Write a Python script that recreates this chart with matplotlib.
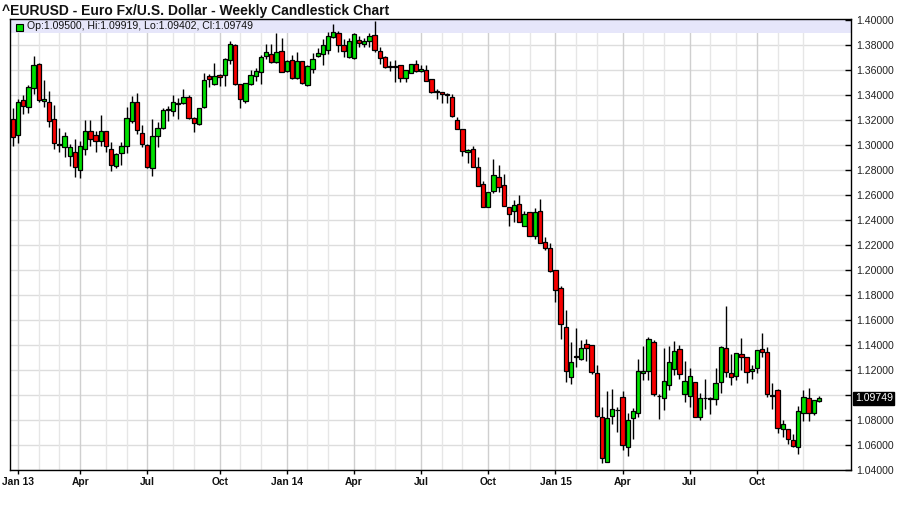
import datetime as dt
import matplotlib
matplotlib.use("Agg")
import matplotlib.pyplot as plt
from matplotlib.patches import Rectangle

# ---------------- data (weekly bars, first week = Dec 31 2012) ----------------
start_week = dt.date(2012, 12, 31)
opens = [
    1.3205, 1.3077, 1.3357, 1.3301, 1.3453, 1.3645, 1.3349, 1.3341, 1.3205, 1.3005,
    1.2981, 1.2909, 1.2941, 1.2800, 1.2965, 1.3112, 1.3077, 1.3029, 1.3112, 1.2965,
    1.2829, 1.2933, 1.2989, 1.3190, 1.3341, 1.3093, 1.2997, 1.2813, 1.3069, 1.3133,
    1.3277, 1.3269, 1.3333, 1.3333, 1.3381, 1.3213, 1.3165, 1.3301, 1.3549, 1.3485,
    1.3557, 1.3557, 1.3677, 1.3797, 1.3485, 1.3349, 1.3485, 1.3549, 1.3581, 1.3709,
    1.3725, 1.3661, 1.3749, 1.3589, 1.3677, 1.3533, 1.3669, 1.3477, 1.3605, 1.3709,
    1.3725, 1.3757, 1.3861, 1.3893, 1.3797, 1.3701, 1.3693, 1.3837, 1.3805, 1.3829,
    1.3877, 1.3749, 1.3701, 1.3629, 1.3632, 1.3640, 1.3533, 1.3579, 1.3645, 1.3592,
    1.3600, 1.3528, 1.3432, 1.3421, 1.3411, 1.3381, 1.3197, 1.3125, 1.2944, 1.2971,
    1.2827, 1.2685, 1.2507, 1.2629, 1.2744, 1.2677, 1.2504, 1.2475, 1.2525, 1.2355,
    1.2467, 1.2275, 1.2469, 1.2224, 1.2173, 1.1997, 1.1853, 1.1544, 1.1147, 1.1312,
    1.1285, 1.1405, 1.1400, 1.1173, 1.0821, 1.0461, 1.0835, 1.0880, 1.0987, 1.0588,
    1.0816, 1.0853, 1.1173, 1.1196, 1.1428, 1.0995, 1.0973, 1.1077, 1.1205, 1.1370,
    1.1005, 1.0992, 1.1101, 1.0827, 1.0979, 1.0973, 1.0965, 1.1107, 1.1373, 1.1173,
    1.1152, 1.1325, 1.1301, 1.1189, 1.1219, 1.1365, 1.1341, 1.0997, 1.1040, 1.0725,
    1.0725, 1.0640, 1.0581, 1.0859, 1.0973, 1.0859, 1.09500,
]
highs = [
    1.3293, 1.3365, 1.3400, 1.3477, 1.3712, 1.3653, 1.3517, 1.3432, 1.3320, 1.3136,
    1.3104, 1.3008, 1.3048, 1.3032, 1.3197, 1.3200, 1.3112, 1.3240, 1.3112, 1.3024,
    1.2933, 1.3024, 1.3304, 1.3392, 1.3416, 1.3160, 1.3005, 1.3205, 1.3181, 1.3293,
    1.3309, 1.3400, 1.3373, 1.3448, 1.3397, 1.3221, 1.3293, 1.3573, 1.3565, 1.3653,
    1.3565, 1.3699, 1.3832, 1.3805, 1.3485, 1.3493, 1.3600, 1.3619, 1.3723, 1.3811,
    1.3805, 1.3893, 1.3853, 1.3677, 1.3717, 1.3741, 1.3669, 1.3637, 1.3733, 1.3773,
    1.3845, 1.3901, 1.3965, 1.3912, 1.3845, 1.3853, 1.3893, 1.3869, 1.3853, 1.3893,
    1.3992, 1.3781, 1.3709, 1.3669, 1.3677, 1.3640, 1.3600, 1.3645, 1.3680, 1.3640,
    1.3640, 1.3528, 1.3448, 1.3427, 1.3419, 1.3405, 1.3221, 1.3125, 1.2971, 1.2992,
    1.2904, 1.2712, 1.2621, 1.2888, 1.2840, 1.2768, 1.2504, 1.2560, 1.2600, 1.2475,
    1.2467, 1.2496, 1.2568, 1.2267, 1.2213, 1.1997, 1.1872, 1.1680, 1.1421, 1.1536,
    1.1440, 1.1448, 1.1400, 1.1240, 1.0901, 1.1035, 1.1048, 1.0907, 1.1032, 1.0853,
    1.0893, 1.1288, 1.1392, 1.1467, 1.1440, 1.1010, 1.1376, 1.1390, 1.1430, 1.1400,
    1.1270, 1.1213, 1.1101, 1.1013, 1.1125, 1.0987, 1.1213, 1.1392, 1.1712, 1.1328,
    1.1333, 1.1453, 1.1301, 1.1240, 1.1357, 1.1493, 1.1381, 1.1093, 1.1051, 1.0800,
    1.0725, 1.0688, 1.0909, 1.1040, 1.1053, 1.0957, 1.09919,
]
lows = [
    1.2992, 1.3013, 1.3248, 1.3259, 1.3408, 1.3347, 1.3307, 1.3141, 1.2965, 1.2947,
    1.2907, 1.2832, 1.2747, 1.2739, 1.2920, 1.2995, 1.2947, 1.2995, 1.2947, 1.2795,
    1.2813, 1.2837, 1.2933, 1.3173, 1.3091, 1.2987, 1.2813, 1.2755, 1.2987, 1.3125,
    1.3189, 1.3229, 1.3205, 1.3325, 1.3205, 1.3101, 1.3157, 1.3293, 1.3461, 1.3477,
    1.3475, 1.3469, 1.3648, 1.3480, 1.3293, 1.3333, 1.3477, 1.3512, 1.3485, 1.3685,
    1.3653, 1.3653, 1.3581, 1.3581, 1.3525, 1.3525, 1.3485, 1.3474, 1.3573, 1.3707,
    1.3637, 1.3725, 1.3853, 1.3747, 1.3701, 1.3693, 1.3685, 1.3787, 1.3787, 1.3787,
    1.3747, 1.3645, 1.3613, 1.3590, 1.3501, 1.3507, 1.3507, 1.3573, 1.3587, 1.3587,
    1.3515, 1.3413, 1.3365, 1.3333, 1.3333, 1.3221, 1.3125, 1.2915, 1.2853, 1.2821,
    1.2675, 1.2501, 1.2507, 1.2613, 1.2627, 1.2515, 1.2355, 1.2387, 1.2387, 1.2355,
    1.2275, 1.2248, 1.2219, 1.2160, 1.1987, 1.1747, 1.1448, 1.1107, 1.1088, 1.1227,
    1.1280, 1.1275, 1.1171, 1.0821, 1.0459, 1.0461, 1.0765, 1.0707, 1.0562, 1.0515,
    1.0652, 1.0825, 1.1120, 1.1120, 1.0992, 1.0808, 1.0883, 1.1042, 1.1160, 1.1125,
    1.0947, 1.0907, 1.0821, 1.0800, 1.0890, 1.0848, 1.0920, 1.1013, 1.1147, 1.1080,
    1.1120, 1.1200, 1.1099, 1.1125, 1.1179, 1.1307, 1.0987, 1.0890, 1.0699, 1.0667,
    1.0608, 1.0587, 1.0525, 1.0795, 1.0795, 1.0840, 1.09402,
]
closes = [
    1.3061, 1.3341, 1.3312, 1.3461, 1.3637, 1.3357, 1.3365, 1.3192, 1.3013, 1.3000,
    1.3069, 1.2981, 1.2821, 1.2989, 1.3112, 1.3045, 1.3029, 1.3112, 1.2989, 1.2837,
    1.2925, 1.2989, 1.3213, 1.3341, 1.3120, 1.3005, 1.2821, 1.3069, 1.3133, 1.3277,
    1.3285, 1.3341, 1.3325, 1.3381, 1.3213, 1.3173, 1.3293, 1.3517, 1.3525, 1.3549,
    1.3541, 1.3685, 1.3805, 1.3485, 1.3365, 1.3493, 1.3557, 1.3589, 1.3701, 1.3741,
    1.3661, 1.3741, 1.3581, 1.3669, 1.3533, 1.3669, 1.3493, 1.3629, 1.3685, 1.3733,
    1.3797, 1.3869, 1.3901, 1.3797, 1.3749, 1.3829, 1.3885, 1.3813, 1.3829, 1.3869,
    1.3757, 1.3693, 1.3621, 1.3621, 1.3628, 1.3533, 1.3600, 1.3645, 1.3592, 1.3605,
    1.3515, 1.3427, 1.3421, 1.3405, 1.3397, 1.3235, 1.3125, 1.2949, 1.2960, 1.2827,
    1.2675, 1.2507, 1.2621, 1.2757, 1.2667, 1.2515, 1.2451, 1.2520, 1.2387, 1.2445,
    1.2275, 1.2461, 1.2219, 1.2179, 1.1995, 1.1837, 1.1565, 1.1195, 1.1267, 1.1307,
    1.1373, 1.1373, 1.1187, 1.0835, 1.0493, 1.0813, 1.0885, 1.0883, 1.0598, 1.0800,
    1.0870, 1.1188, 1.1190, 1.1444, 1.1005, 1.0993, 1.1110, 1.1261, 1.1350, 1.1165,
    1.1112, 1.1150, 1.0821, 1.0973, 1.0976, 1.0965, 1.1099, 1.1381, 1.1181, 1.1147,
    1.1333, 1.1301, 1.1187, 1.1205, 1.1357, 1.1341, 1.1011, 1.0992, 1.0733, 1.0765,
    1.0645, 1.0589, 1.0875, 1.0981, 1.0859, 1.0957, 1.09749,
]
price_ticks = [1.04, 1.06, 1.08, 1.10, 1.12, 1.14, 1.16, 1.18, 1.20, 1.22,
               1.24, 1.26, 1.28, 1.30, 1.32, 1.34, 1.36, 1.38, 1.40]
title_text = "^EURUSD - Euro Fx/U.S. Dollar - Weekly Candlestick Chart"

# ---------------- figure ----------------
W, H = 900, 511
fig = plt.figure(figsize=(W / 100, H / 100), dpi=100, facecolor="white")
ax_l, ax_r, ax_t, ax_b = 10, 851, 19, 470
ax = fig.add_axes([ax_l / W, (H - ax_b) / H, (ax_r - ax_l) / W, (ax_b - ax_t) / H])
ax.set_facecolor("white")

n = len(opens)
idx = list(range(n))
ax.set_xlim(-0.58, 162.2)
ax.set_ylim(1.04, 1.4008)

# grid: horizontal
for p in price_ticks:
    ax.axhline(p, color="#dddddd", lw=1, zorder=0)

# grid: monthly verticals at first weekly bar of each month
month_pos, month_lab = [], []
for y in (2013, 2014, 2015):
    for m in range(1, 13):
        d = dt.date(y, m, 1)
        while d.weekday() != 0:
            d += dt.timedelta(days=1)
        k = (d - start_week).days / 7
        if k > n:
            continue
        q = m in (1, 4, 7, 10)
        ax.axvline(k, color="#cfcfcf" if q else "#e6e6e6", lw=1, zorder=0)
        if q:
            month_pos.append(k)
            name = {1: "Jan", 4: "Apr", 7: "Jul", 10: "Oct"}[m]
            month_lab.append(f"{name} {y % 100:02d}" if m == 1 else name)

# header band
ax.add_patch(Rectangle((0, 1 - 14 / 451), 1, 14 / 451, transform=ax.transAxes,
                       facecolor="#e6e6fa", edgecolor="none", zorder=1))

# candles
colors = ["#00e000" if c >= o else "#f80000" for o, c in zip(opens, closes)]
ax.vlines(idx, lows, highs, color="black", lw=1, zorder=3)
bottoms = [min(o, c) for o, c in zip(opens, closes)]
heights = [max(abs(c - o), 0.00005) for o, c in zip(opens, closes)]
ax.bar(idx, heights, bottom=bottoms, width=0.84, color=colors,
       edgecolor="black", linewidth=0.9, zorder=4)

# header text
ax.add_patch(Rectangle((6 / 841, 1 - 11.5 / 451), 7 / 841, 7 / 451, transform=ax.transAxes,
                       facecolor="#00e000", edgecolor="black", lw=0.8, zorder=5,
                       clip_on=False))
ax.text(17 / 841, 1 - 7 / 451,
        f"Op:{opens[-1]:.5f}, Hi:{highs[-1]:.5f}, Lo:{lows[-1]:.5f}, Cl:{closes[-1]:.5f}",
        transform=ax.transAxes, fontsize=7.6, family="Liberation Sans",
        va="center", ha="left", color="#111111", zorder=6)

# title
fig.text(2 / W, 1 - 11 / H, title_text, fontsize=10, fontweight="bold",
         family="Liberation Sans", va="center", ha="left", color="#111111")

# axes styling
for s in ax.spines.values():
    s.set_color("black")
    s.set_linewidth(1)
    s.set_zorder(7)
ax.yaxis.tick_right()
ax.set_yticks(price_ticks)
# the 1.10 label is covered by the last-price marker in the reference
ax.set_yticklabels(["" if abs(p - 1.10) < 1e-9 else f"{p:.5f}" for p in price_ticks],
                   fontsize=7.6, family="Liberation Sans", color="#222222")
ax.tick_params(axis="y", direction="in", length=4, width=1, pad=4, right=True, left=False)
ax.set_xticks(month_pos)
ax.set_xticklabels(month_lab, fontsize=7.4, fontweight="bold", family="Liberation Sans",
                   color="#111111")
ax.tick_params(axis="x", direction="out", length=3, width=1, pad=2)

# last price marker
ax.text(1.0045, closes[-1], f"{closes[-1]:.5f}", transform=ax.get_yaxis_transform(),
        fontsize=7.6, family="Liberation Sans", color="white", va="center", ha="left",
        bbox=dict(boxstyle="square,pad=0.15", facecolor="black", edgecolor="black"),
        zorder=8, clip_on=False)

fig.savefig("out.png", dpi=100, facecolor="white")
